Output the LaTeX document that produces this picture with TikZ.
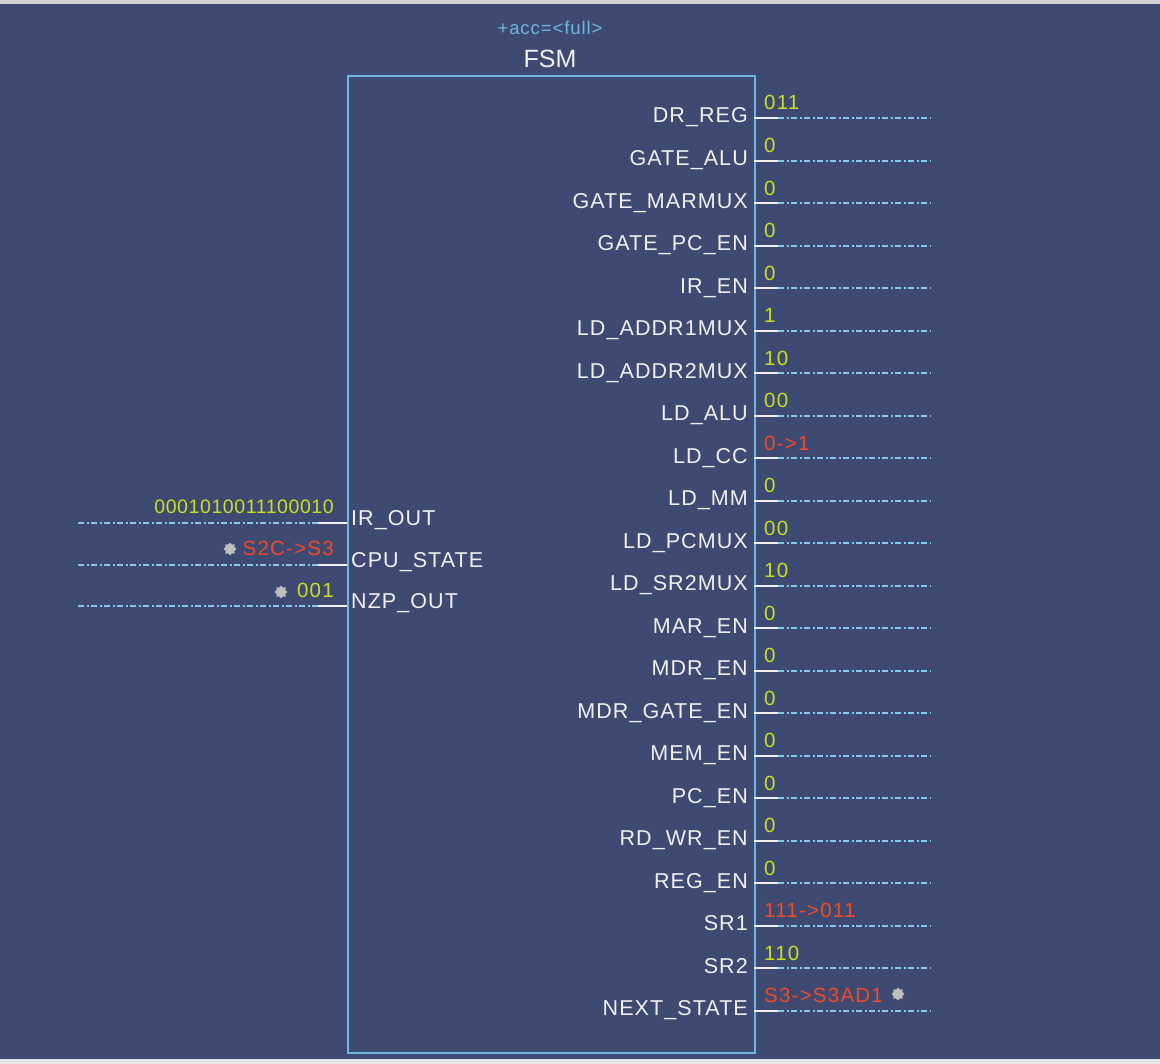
\documentclass[tikz,border=0pt]{standalone}
\usepackage{fontspec}
\setmainfont{Liberation Sans}
\newfontfamily\namefont[LetterSpace=5]{Liberation Sans}
\newfontfamily\valfont[LetterSpace=6]{Liberation Sans}
\newfontfamily\binfont[LetterSpace=3]{Liberation Sans}
\newfontfamily\accfont[LetterSpace=5]{Liberation Sans}
\usetikzlibrary{shapes.geometric}
\definecolor{bg}{RGB}{63,74,114}
\definecolor{boxblue}{RGB}{110,182,222}
\definecolor{ddblue}{RGB}{132,202,238}
\definecolor{vg}{RGB}{200,224,32}
\definecolor{vr}{RGB}{240,76,40}
\definecolor{mk}{RGB}{190,190,190}
\definecolor{nm}{RGB}{240,240,240}
\tikzset{
  pinw/.style={draw=nm, line width=2pt},
  dd/.style={draw=ddblue, line width=2pt, dash pattern=on 6pt off 2.5pt on 2pt off 2.5pt},
  pinname/.style={inner sep=0pt, text=nm, font=\namefont\fontsize{21.5}{22}\selectfont},
  pinval/.style={inner sep=0pt, font=\valfont\fontsize{20.5}{21}\selectfont},
  marker/.style={star, star points=8, star point ratio=1.35, fill=mk, draw=none, minimum size=13pt, inner sep=0pt}
}
\begin{document}
\begin{tikzpicture}[x=1pt,y=-1pt]
\useasboundingbox (0,0) rectangle (1160,1064);
\fill[bg] (0,0) rectangle (1160,1064);
\fill[gray!35] (0,0) rectangle (1160,4);
\fill[gray!20] (0,1059) rectangle (1160,1064);
% block
\node[draw=boxblue, line width=2pt, minimum width=407pt, minimum height=977pt, inner sep=0pt, anchor=north west] (fsm) at (347,75) {};
\node[anchor=base, inner sep=0pt, text=boxblue, font=\accfont\fontsize{18.5}{20}\selectfont] (acc) at (550,35) {+acc=<full>};
\node[anchor=base, inner sep=0pt, text=nm, font=\fontsize{25}{28}\selectfont] (title) at (550,68) {FSM};
% right pins
\foreach \n/\v/\c [count=\i from 0] in {
  DR\_REG/011/vg, GATE\_ALU/0/vg, GATE\_MARMUX/0/vg, GATE\_PC\_EN/0/vg,
  IR\_EN/0/vg, LD\_ADDR1MUX/1/vg, LD\_ADDR2MUX/10/vg, LD\_ALU/00/vg,
  LD\_CC/0->1/vr, LD\_MM/0/vg, LD\_PCMUX/00/vg, LD\_SR2MUX/10/vg,
  MAR\_EN/0/vg, MDR\_EN/0/vg, MDR\_GATE\_EN/0/vg, MEM\_EN/0/vg,
  PC\_EN/0/vg, RD\_WR\_EN/0/vg, REG\_EN/0/vg, SR1/111->011/vr,
  SR2/110/vg, NEXT\_STATE/S3->S3AD1/vr} {
  \pgfmathsetmacro\yy{118+42.52*\i}
  \coordinate (r\i) at (754,\yy);
  \coordinate (re\i) at (778,\yy);
  \coordinate (rx\i) at (931,\yy);
  \draw[pinw] (r\i) -- (re\i);
  \draw[dd] (re\i) -- (rx\i);
  \node[pinname, anchor=base east] (rn\i) at (748,\yy+5) {\n};
  \node[pinval, text=\c, anchor=base west] (rv\i) at (764,\yy-8) {\v};
}
\node[marker] (m3) at (898,994) {};
% left pins
\foreach \n/\yy [count=\i from 0] in {IR\_OUT/523, CPU\_STATE/564.5, NZP\_OUT/606} {
  \coordinate (l\i) at (347,\yy);
  \coordinate (le\i) at (318,\yy);
  \coordinate (lx\i) at (77,\yy);
  \draw[pinw] (l\i) -- (le\i);
  \draw[dd] (le\i) -- (lx\i);
  \node[pinname, anchor=base west] (ln\i) at (351,\yy+2.5) {\n};
}
\node[inner sep=0pt, text=vg, font=\binfont\fontsize{19.5}{20}\selectfont, anchor=base east] (lv0) at (334,514) {0001010011100010};
\node[pinval, text=vr, anchor=base east] (lv1) at (334,555.5) {S2C->S3};
\node[pinval, text=vg, anchor=base east] (lv2) at (334,597) {001};
\node[marker] (m1) at (230,549) {};
\node[marker] (m2) at (281,592) {};
\end{tikzpicture}
\end{document}
